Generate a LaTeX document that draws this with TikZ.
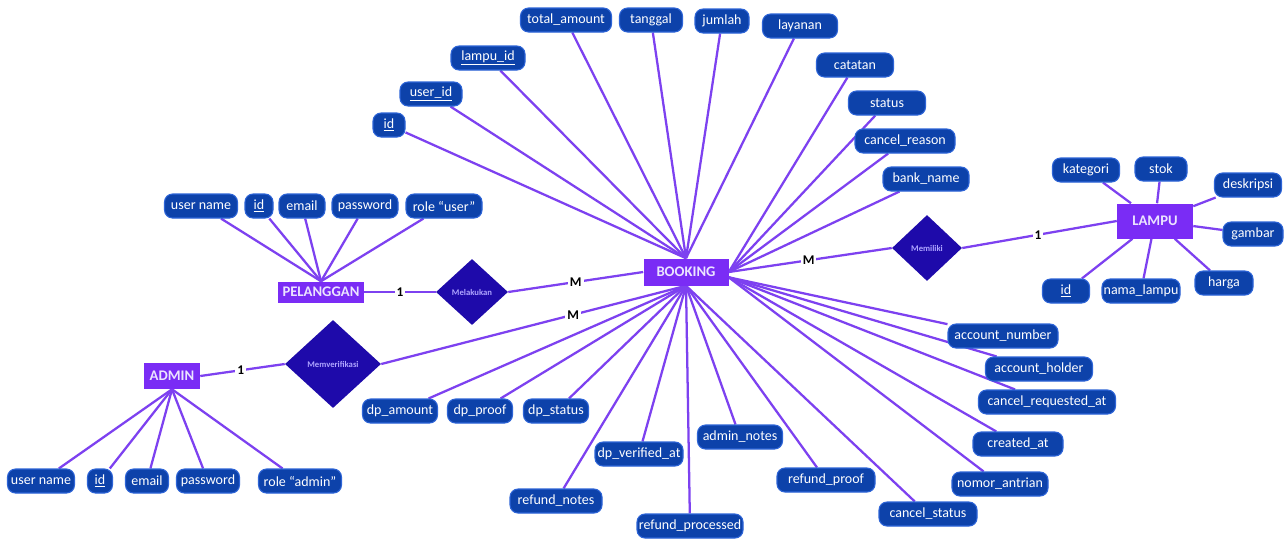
\documentclass[tikz,border=0pt]{standalone}
\usepackage{fontspec}
\setmainfont{Carlito}
\usetikzlibrary{shapes.geometric,backgrounds}
\definecolor{entfill}{RGB}{122,44,245}
\definecolor{relfill}{RGB}{30,10,170}
\definecolor{attfill}{RGB}{13,66,170}
\definecolor{attdraw}{RGB}{45,100,215}
\definecolor{linkc}{RGB}{125,65,240}
\definecolor{enttext}{RGB}{235,228,255}
\definecolor{reltext}{RGB}{175,165,255}
\newcommand\attrnode[5]{\node[attr,minimum width=#4*0.75pt] (#1) at (#2,#3) {#5};}
\begin{document}
\begin{tikzpicture}[x=0.75pt,y=-0.75pt,
  attr/.style={rounded corners=6pt, fill=attfill, draw=attdraw, line width=0.8pt, text=white,
    font=\fontsize{10.5}{12}\selectfont, minimum height=18pt, inner sep=1pt},
  ent/.style={fill=entfill, text=enttext, font=\bfseries\fontsize{11}{13}\selectfont, inner sep=1pt},
  rel/.style={diamond, fill=relfill, text=reltext, font=\bfseries\fontsize{6.5}{7}\selectfont, inner sep=0pt},
  link/.style={draw=linkc, line width=1.7pt},
  card/.style={fill=white, text=black, font=\bfseries\fontsize{10}{11}\selectfont, inner sep=1.5pt}]
\useasboundingbox (0,0) rectangle (1287,540);
% entities
\node[ent, minimum width=85*0.75pt, minimum height=27*0.75pt] (B) at (686,272) {BOOKING};
\node[ent, minimum width=86*0.75pt, minimum height=21*0.75pt] (P) at (321,292) {PELANGGAN};
\node[ent, minimum width=56*0.75pt, minimum height=26*0.75pt] (A) at (172,376) {ADMIN};
\node[ent, minimum width=76*0.75pt, minimum height=35*0.75pt] (L) at (1155,221) {LAMPU};
% relationships
\node[rel, minimum width=72*0.75pt, minimum height=66*0.75pt] (R1) at (472,292) {Melakukan};
\node[rel, minimum width=96*0.75pt, minimum height=88*0.75pt] (R2) at (333,364) {Memverifikasi};
\node[rel, minimum width=70*0.75pt, minimum height=66*0.75pt] (R3) at (927,248) {Memiliki};
% booking attributes (top)
\attrnode{bid}{389}{125}{32}{\underline{id}}
\attrnode{buid}{431}{94}{62}{\underline{user\_id}}
\attrnode{blid}{488}{58}{74}{\underline{lampu\_id}}
\attrnode{btot}{566}{20}{91}{total\_amount}
\attrnode{btgl}{651}{20}{63}{tanggal}
\attrnode{bjml}{722}{21}{54}{jumlah}
\attrnode{blay}{800}{26}{75}{layanan}
\attrnode{bcat}{855}{65}{77}{catatan}
\attrnode{bsta}{887}{103}{77}{status}
\attrnode{bcre}{905}{141}{100}{cancel\_reason}
\attrnode{bbank}{926}{179}{86}{bank\_name}
% booking attributes (right / bottom)
\attrnode{bacn}{1003}{336}{110}{account\_number}
\attrnode{bach}{1039}{369}{107}{account\_holder}
\attrnode{bcra}{1047}{402}{137}{cancel\_requested\_at}
\attrnode{bcrt}{1018}{444}{90}{created\_at}
\attrnode{bnom}{1000}{484}{96}{nomor\_antrian}
\attrnode{bcst}{928}{514}{98}{cancel\_status}
\attrnode{brpf}{826}{480}{98}{refund\_proof}
\attrnode{badm}{740}{437}{85}{admin\_notes}
\attrnode{brpr}{690}{526}{106}{refund\_processed}
\attrnode{bdpv}{639}{454}{88}{dp\_verified\_at}
\attrnode{brnt}{556}{501}{92}{refund\_notes}
\attrnode{bdps}{556}{411}{65}{dp\_status}
\attrnode{bdpp}{480}{411}{65}{dp\_proof}
\attrnode{bdpa}{400}{411}{75}{dp\_amount}
% pelanggan attributes
\attrnode{pun}{201}{206}{73}{user name}
\attrnode{pid}{259}{206}{28}{\underline{id}}
\attrnode{pem}{302}{206}{46}{email}
\attrnode{ppw}{365}{206}{66}{password}
\attrnode{prl}{444}{206}{76}{role “user”}
% admin attributes
\attrnode{aun}{41}{481}{67}{user name}
\attrnode{aid}{100}{481}{25}{\underline{id}}
\attrnode{aem}{147}{481}{43}{email}
\attrnode{apw}{208}{481}{63}{password}
\attrnode{arl}{300}{481}{83}{role “admin”}
% lampu attributes
\attrnode{lkat}{1086}{170}{67}{kategori}
\attrnode{lstk}{1161}{169}{52}{stok}
\attrnode{ldes}{1248}{185}{67}{deskripsi}
\attrnode{lgam}{1253}{234}{60}{gambar}
\attrnode{lhar}{1224}{283}{58}{harga}
\attrnode{lnam}{1141}{291}{78}{nama\_lampu}
\attrnode{lid}{1066}{291}{47}{\underline{id}}
\coordinate (Bse) at ([yshift=-4pt]B.east);
\begin{scope}[on background layer]
\fill[white] (0,0) rectangle (1287,540);
% booking attribute links
\foreach \n in {bid,buid,blid,btot,btgl,bjml,blay} \draw[link] (\n) -- (B.north);
\foreach \n in {bcat,bsta,bcre,bbank} \draw[link] (\n) -- (B.east);
\foreach \n in {bacn,bach,bcra,bcrt,bnom} \draw[link] (\n) -- (Bse);
\foreach \n in {bcst,brpf,badm,brpr,bdpv,brnt,bdps,bdpp,bdpa} \draw[link] (\n) -- (B.south);
\foreach \n in {pun,pid,pem,ppw,prl} \draw[link] (\n) -- (P.north);
\foreach \n in {aun,aid,aem,apw,arl} \draw[link] (\n) -- (A.south);
\foreach \n in {lkat,lstk,ldes,lgam,lhar,lnam,lid} \draw[link] (\n) -- (L);
% relationship links
\draw[link] (P.east) -- node[card, pos=0.5] {1} (R1.west);
\draw[link] (R1.east) -- node[card, pos=0.5] {M} (B.west);
\draw[link] (A.east) -- node[card, pos=0.48] {1} (R2.west);
\draw[link] (R2.east) -- node[card, pos=0.63] {M} (B.south);
\draw[link] (B.east) -- node[card, pos=0.49] {M} (R3.west);
\draw[link] (R3.east) -- node[card, pos=0.49] {1} (L.west);
\end{scope}
\end{tikzpicture}
\end{document}
